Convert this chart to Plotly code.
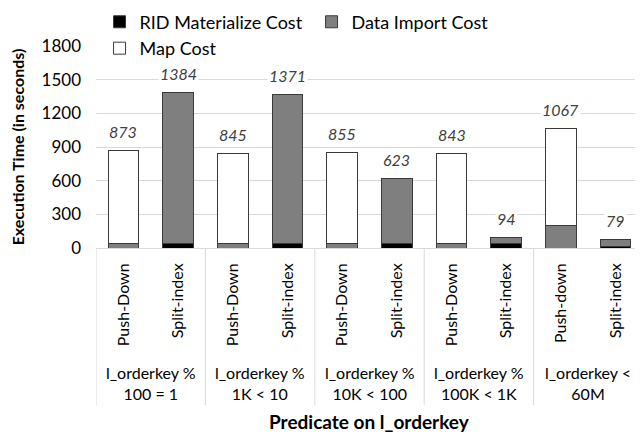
import plotly.graph_objects as go

# predicate groups and the two strategies in each
groups = ["l_orderkey %<br>100 = 1", "l_orderkey %<br>1K &lt; 10", "l_orderkey %<br>10K &lt; 100",
          "l_orderkey %<br>100K &lt; 1K", "l_orderkey &lt;<br>60M"]
methods = ["Push-Down", "Split-index", "Push-Down", "Split-index", "Push-Down", "Split-index",
           "Push-Down", "Split-index", "Push-down", "Split-index"]

# cost components (seconds)
rid_cost = [0, 40, 0, 40, 0, 40, 0, 40, 0, 15]
import_cost = [40, 1344, 40, 1331, 40, 583, 40, 54, 200, 64]
map_cost = [833, 0, 805, 0, 815, 0, 803, 0, 867, 0]
totals = [873, 1384, 845, 1371, 855, 623, 843, 94, 1067, 79]

pos = list(range(len(methods)))

FONT = "Lato, Carlito, Calibri, sans-serif"
edge = dict(color="#3a3a3a", width=1)

fig = go.Figure()
fig.add_trace(go.Bar(x=pos, y=rid_cost, name="RID Materialize Cost",
                     marker=dict(color="#000000", line=edge)))
fig.add_trace(go.Bar(x=pos, y=import_cost, name="Data Import Cost",
                     marker=dict(color="#7f7f7f", line=edge)))
fig.add_trace(go.Bar(x=pos, y=map_cost, name="Map Cost",
                     marker=dict(color="#ffffff", line=edge)))

# total labels above each bar, white box cuts the gridlines like the original
for i, t in enumerate(totals):
    fig.add_annotation(x=i, y=t, xref="x", yref="y", text="<i>%d</i>" % t,
                       showarrow=False, yshift=19, bgcolor="white",
                       font=dict(family=FONT, size=16, color="#404040"))

# group labels and the divider lines between groups
for k, g in enumerate(groups):
    fig.add_annotation(x=2 * k + 0.5, y=-0.668, xref="x", yref="paper", text=g,
                       showarrow=False, yanchor="middle",
                       font=dict(family=FONT, size=16, color="#000000"))
for k in range(len(groups) + 1):
    fig.add_shape(type="line", x0=2 * k - 0.5, x1=2 * k - 0.5, y0=0, y1=-0.777,
                  xref="x", yref="paper", line=dict(color="#d9d9d9", width=1))

fig.add_annotation(x=0.5, y=-0.861, xref="paper", yref="paper",
                   text="<b>Predicate on l_orderkey</b>", showarrow=False, yanchor="middle",
                   font=dict(family=FONT, size=19, color="#000000"))

fig.update_layout(
    width=635, height=429,
    margin=dict(l=88, r=0, t=38, b=189, autoexpand=False),
    barmode="stack", bargap=0.44,
    plot_bgcolor="white", paper_bgcolor="white",
    font=dict(family=FONT, size=15, color="#000000"),
    legend=dict(orientation="h", x=0.0065, y=1.21, xanchor="left", yanchor="top",
                entrywidth=167, bgcolor="white", traceorder="normal",
                font=dict(family=FONT, size=18), itemwidth=30),
    showlegend=True,
)
fig.update_yaxes(range=[0, 1800], tickvals=[0, 300, 600, 900, 1200, 1500, 1800],
                 gridcolor="#d9d9d9", zeroline=False, showline=False, automargin=False,
                 tickfont=dict(size=17, color="#000000"), ticklabelstandoff=14,
                 title=dict(text="<b>Execution Time (in seconds)</b>", font=dict(size=16), standoff=19))
fig.update_xaxes(range=[-0.5, 9.5], tickvals=pos, ticktext=methods, tickangle=-90,
                 showline=True, linecolor="#d9d9d9", showgrid=False, zeroline=False,
                 automargin=False, ticklabelstandoff=8,
                 tickfont=dict(size=16, color="#000000"))

fig.write_html("out.html")
